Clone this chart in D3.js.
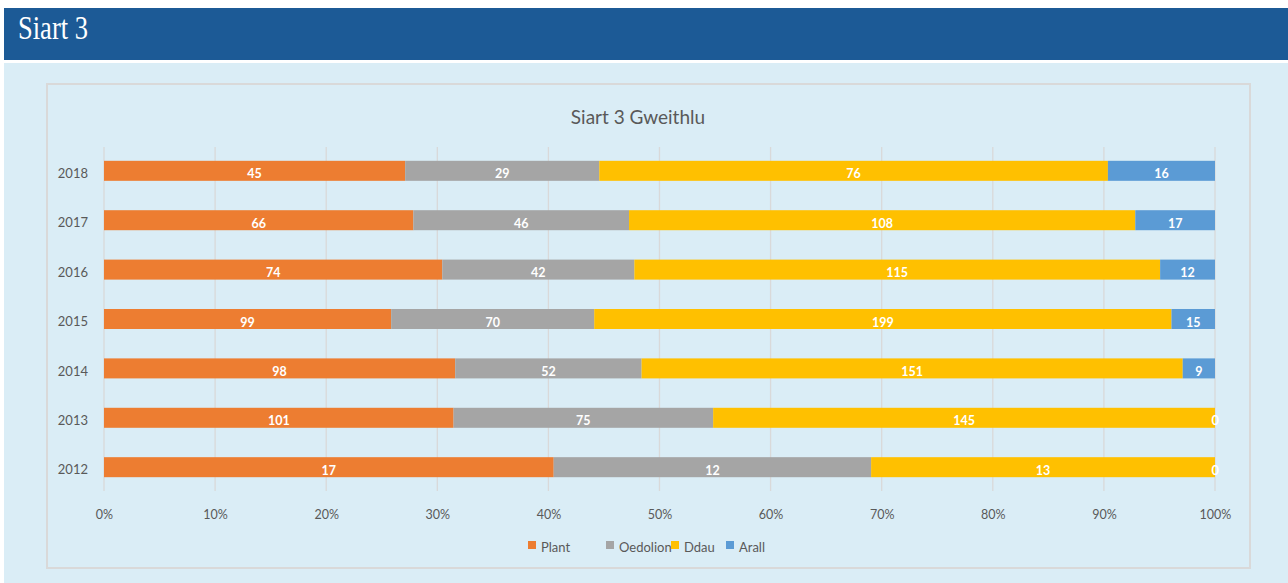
<!DOCTYPE html>
<html>
<head>
<meta charset="utf-8">
<script src="https://cdn.jsdelivr.net/npm/d3@7/dist/d3.min.js"></script>
<style>
  html, body { margin: 0; padding: 0; background: #ffffff; }
  svg { display: block; }
</style>
</head>
<body>
<svg id="chart" width="1288" height="583"></svg>
<script>
const years = ["2018", "2017", "2016", "2015", "2014", "2013", "2012"];
const seriesNames = ["Plant", "Oedolion", "Ddau", "Arall"];
const plant    = [45, 66, 74, 99, 98, 101, 17];
const oedolion = [29, 46, 42, 70, 52, 75, 12];
const ddau     = [76, 108, 115, 199, 151, 145, 13];
const arall    = [16, 17, 12, 15, 9, 0, 0];
const colors   = ["#ed7d31", "#a5a5a5", "#ffc000", "#5b9bd5"];
const tickValues = [0, 0.1, 0.2, 0.3, 0.4, 0.5, 0.6, 0.7, 0.8, 0.9, 1.0];

const svg = d3.select("#chart");
const font = "Lato, 'Open Sans', sans-serif";

// header
svg.append("rect").attr("x", 4).attr("y", 8).attr("width", 1284).attr("height", 52).attr("fill", "#1c5a96");
svg.append("text").attr("x", 18).attr("y", 39).text("Siart 3")
  .attr("fill", "#ffffff").attr("font-family", "'Liberation Serif', 'DejaVu Serif', serif").attr("font-size", 33)
  .attr("textLength", 70).attr("lengthAdjust", "spacingAndGlyphs");

// light background
svg.append("rect").attr("x", 4).attr("y", 63).attr("width", 1284).attr("height", 520).attr("fill", "#daedf6");

// chart border
svg.append("rect").attr("x", 47).attr("y", 84).attr("width", 1203).attr("height", 484)
  .attr("fill", "#daedf6").attr("stroke", "#d9d9d9").attr("stroke-width", 2);

// title
svg.append("text").attr("x", 638).attr("y", 124).attr("text-anchor", "middle")
  .text("Siart 3 Gweithlu").attr("fill", "#595959").attr("font-family", font).attr("font-size", 19);

const rows = years.map((y, i) => ({
  year: y, Plant: plant[i], Oedolion: oedolion[i], Ddau: ddau[i], Arall: arall[i]
}));

const x = d3.scaleLinear().domain([0, 1]).range([104, 1215]);
const yScale = d3.scaleBand().domain(years).range([146, 492]).paddingInner(0.595).paddingOuter(0.3);

// gridlines
svg.append("g").selectAll("line").data(tickValues).join("line")
  .attr("x1", d => x(d)).attr("x2", d => x(d))
  .attr("y1", 147).attr("y2", 491)
  .attr("stroke", "#d9d9d9").attr("stroke-width", 1.3);

// x axis
const xAxis = d3.axisBottom(x).tickValues(tickValues).tickFormat(d3.format(".0%")).tickSize(0);
const gx = svg.append("g").attr("transform", "translate(0,507)").call(xAxis);
gx.select(".domain").remove();
gx.selectAll("text").attr("fill", "#595959").attr("font-family", font).attr("font-size", 12.5).attr("dy", "0.71em");

// y axis
const yAxis = d3.axisLeft(yScale).tickSize(0).tickPadding(0);
const gy = svg.append("g").attr("transform", "translate(88,3)").call(yAxis);
gy.select(".domain").remove();
gy.selectAll("text").attr("fill", "#595959").attr("font-family", font).attr("font-size", 13);

// stacked (normalized)
const stack = d3.stack().keys(seriesNames).offset(d3.stackOffsetExpand);
const stacked = stack(rows);

const layers = svg.append("g").selectAll("g").data(stacked).join("g")
  .attr("fill", (d, i) => colors[i]);

layers.selectAll("rect").data(d => d).join("rect")
  .attr("x", d => x(d[0]))
  .attr("y", d => yScale(d.data.year))
  .attr("width", d => x(d[1]) - x(d[0]))
  .attr("height", yScale.bandwidth());

const labels = svg.append("g");
stacked.forEach(layer => {
  layer.forEach(d => {
    labels.append("text")
      .attr("x", (x(d[0]) + x(d[1])) / 2)
      .attr("y", yScale(d.data.year) + yScale.bandwidth() / 2 + 7.5)
      .attr("text-anchor", "middle")
      .attr("fill", "#ffffff")
      .attr("font-family", font)
      .attr("font-weight", "bold")
      .attr("font-size", 12.5)
      .text(d.data[layer.key]);
  });
});

// legend
const legendX = [528, 606, 671, 726];
const lg = svg.append("g");
seriesNames.forEach((s, i) => {
  lg.append("rect").attr("x", legendX[i]).attr("y", 541).attr("width", 8).attr("height", 8).attr("fill", colors[i]);
  lg.append("text").attr("x", legendX[i] + 13).attr("y", 552).text(s)
    .attr("fill", "#595959").attr("font-family", font).attr("font-size", 13);
});
</script>
</body>
</html>
